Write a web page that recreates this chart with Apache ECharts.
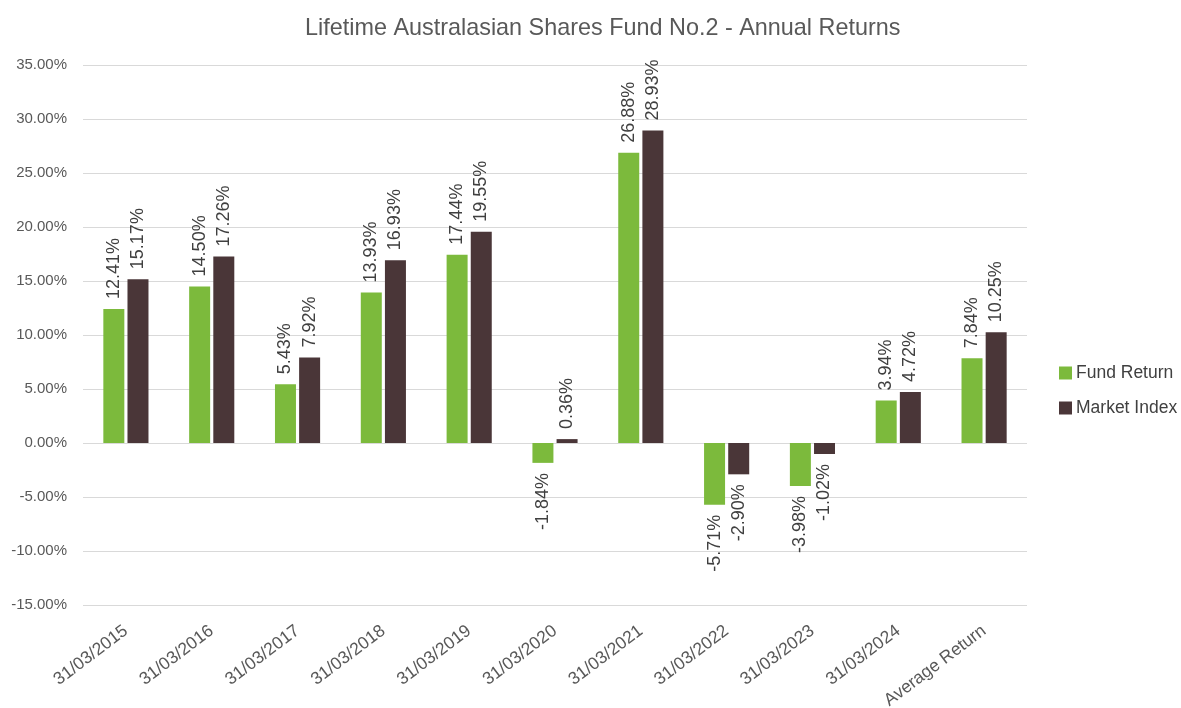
<!DOCTYPE html>
<html><head><meta charset="utf-8">
<script src="https://cdn.jsdelivr.net/npm/echarts@6/dist/echarts.min.js"></script>
<style>html,body{margin:0;padding:0;background:#fff}#c{width:1181px;height:708px}</style>
</head><body><div id="c"></div>
<script>
const categories = ['31/03/2015','31/03/2016','31/03/2017','31/03/2018','31/03/2019','31/03/2020','31/03/2021','31/03/2022','31/03/2023','31/03/2024','Average Return'];
const fundReturn = [12.41, 14.50, 5.43, 13.93, 17.44, -1.84, 26.88, -5.71, -3.98, 3.94, 7.84];
const marketIndex = [15.17, 17.26, 7.92, 16.93, 19.55, 0.36, 28.93, -2.90, -1.02, 4.72, 10.25];
const seriesNames = ['Fund Return', 'Market Index'];
const FONT = 'Liberation Sans, Arial, sans-serif';

function mkData(arr) {
  return arr.map(v => ({
    value: v,
    label: v < 0
      ? { position: 'bottom', align: 'right', verticalAlign: 'middle' }
      : { position: 'top', align: 'left', verticalAlign: 'middle' }
  }));
}
const labelBase = {
  show: true, rotate: 90, distance: 10, color: '#404040', fontSize: 18, fontFamily: FONT,
  formatter: p => p.value.toFixed(2) + '%'
};
const chart = echarts.init(document.getElementById('c'));
chart.setOption({
  animation: false,
  title: { text: 'Lifetime Australasian Shares Fund No.2 - Annual Returns', left: 300, top: 12,
    textStyle: { fontFamily: FONT, fontSize: 23.4, fontWeight: 'normal', color: '#595959' } },
  legend: { orient: 'vertical', left: 1054, top: 359, itemGap: 17, itemWidth: 13, itemHeight: 13, icon: 'rect',
    textStyle: { fontFamily: FONT, fontSize: 17.5, color: '#404040', padding: [0, 0, 0, -1] }, data: seriesNames },
  grid: { left: 83, right: 154, top: 65, bottom: 103, containLabel: false, outerBoundsMode: 'none' },
  xAxis: { type: 'category', data: categories,
    axisLine: { show: false, onZero: false }, axisTick: { show: false },
    axisLabel: { rotate: 37, interval: 0, color: '#595959', fontSize: 17.5, fontFamily: FONT, margin: 24 } },
  yAxis: { type: 'value', min: -15, max: 35, interval: 5,
    axisLine: { show: false }, axisTick: { show: false },
    splitLine: { lineStyle: { color: '#d9d9d9', width: 1 } },
    axisLabel: { formatter: v => v.toFixed(2) + '%', color: '#595959', fontSize: 15, fontFamily: FONT, margin: 16 } },
  series: [
    { name: seriesNames[0], type: 'bar', data: mkData(fundReturn), barWidth: 21, barGap: '15%',
      itemStyle: { color: '#7CBA3C' }, label: labelBase },
    { name: seriesNames[1], type: 'bar', data: mkData(marketIndex), barWidth: 21, barGap: '15%',
      itemStyle: { color: '#4A3638' }, label: labelBase }
  ]
});
</script></body></html>
